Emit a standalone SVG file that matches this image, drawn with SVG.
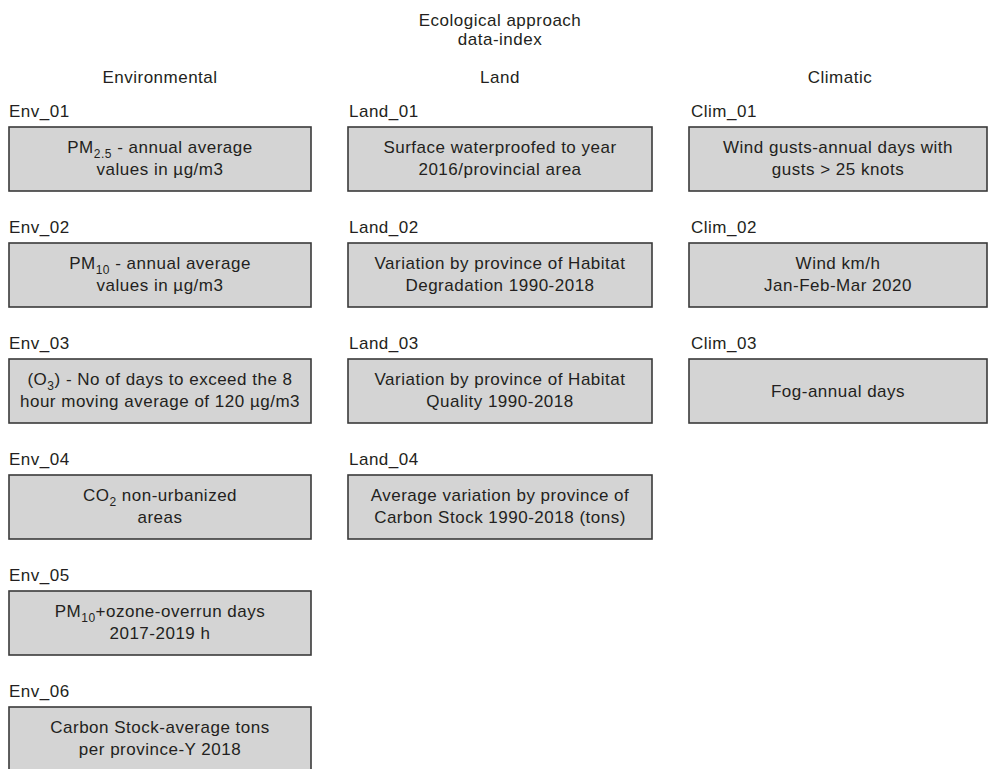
<svg xmlns="http://www.w3.org/2000/svg" width="990" height="769" viewBox="0 0 990 769">
<style>
text{font-family:"Liberation Sans",Arial,sans-serif;font-size:17px;fill:#231f20;letter-spacing:0.5px}
.c{text-anchor:middle}
.box{fill:#d4d4d4;stroke:#3a3a3a;stroke-width:1.6}
.sub{font-size:12px}
</style>
<rect width="990" height="769" fill="#ffffff"/>
<g id="title">
<text class="c" x="500" y="26">Ecological approach</text>
<text class="c" x="500" y="45">data-index</text>
</g>
<g id="headers">
<text class="c" x="160" y="83">Environmental</text>
<text class="c" x="500" y="83">Land</text>
<text class="c" x="840" y="83">Climatic</text>
</g>
<g id="connectors"></g>
<g id="env01">
<text x="9" y="117">Env_01</text>
<rect class="box" x="9" y="127" width="302" height="64"/>
<text class="c" x="160" y="153">PM<tspan class="sub" dy="5">2.5</tspan><tspan dy="-5"> - annual average</tspan></text>
<text class="c" x="160" y="175">values in µg/m3</text>
</g>
<g id="env02">
<text x="9" y="233">Env_02</text>
<rect class="box" x="9" y="243" width="302" height="64"/>
<text class="c" x="160" y="269">PM<tspan class="sub" dy="5">10</tspan><tspan dy="-5"> - annual average</tspan></text>
<text class="c" x="160" y="291">values in µg/m3</text>
</g>
<g id="env03">
<text x="9" y="349">Env_03</text>
<rect class="box" x="9" y="359" width="302" height="64"/>
<text class="c" x="160" y="385">(O<tspan class="sub" dy="5">3</tspan><tspan dy="-5">) - No of days to exceed the 8</tspan></text>
<text class="c" x="160" y="407">hour moving average of 120 µg/m3</text>
</g>
<g id="env04">
<text x="9" y="465">Env_04</text>
<rect class="box" x="9" y="475" width="302" height="64"/>
<text class="c" x="160" y="501">CO<tspan class="sub" dy="5">2</tspan><tspan dy="-5"> non-urbanized</tspan></text>
<text class="c" x="160" y="523">areas</text>
</g>
<g id="env05">
<text x="9" y="581">Env_05</text>
<rect class="box" x="9" y="591" width="302" height="64"/>
<text class="c" x="160" y="617">PM<tspan class="sub" dy="5">10</tspan><tspan dy="-5">+ozone-overrun days</tspan></text>
<text class="c" x="160" y="639">2017-2019 h</text>
</g>
<g id="env06">
<text x="9" y="697">Env_06</text>
<rect class="box" x="9" y="707" width="302" height="64"/>
<text class="c" x="160" y="733">Carbon Stock-average tons</text>
<text class="c" x="160" y="755">per province-Y 2018</text>
</g>
<g id="land01">
<text x="349" y="117">Land_01</text>
<rect class="box" x="348" y="127" width="304" height="64"/>
<text class="c" x="500" y="153">Surface waterproofed to year</text>
<text class="c" x="500" y="175">2016/provincial area</text>
</g>
<g id="land02">
<text x="349" y="233">Land_02</text>
<rect class="box" x="348" y="243" width="304" height="64"/>
<text class="c" x="500" y="269">Variation by province of Habitat</text>
<text class="c" x="500" y="291">Degradation 1990-2018</text>
</g>
<g id="land03">
<text x="349" y="349">Land_03</text>
<rect class="box" x="348" y="359" width="304" height="64"/>
<text class="c" x="500" y="385">Variation by province of Habitat</text>
<text class="c" x="500" y="407">Quality 1990-2018</text>
</g>
<g id="land04">
<text x="349" y="465">Land_04</text>
<rect class="box" x="348" y="475" width="304" height="64"/>
<text class="c" x="500" y="501">Average variation by province of</text>
<text class="c" x="500" y="523">Carbon Stock 1990-2018 (tons)</text>
</g>
<g id="clim01">
<text x="691" y="117">Clim_01</text>
<rect class="box" x="689" y="127" width="298" height="64"/>
<text class="c" x="838" y="153">Wind gusts-annual days with</text>
<text class="c" x="838" y="175">gusts &gt; 25 knots</text>
</g>
<g id="clim02">
<text x="691" y="233">Clim_02</text>
<rect class="box" x="689" y="243" width="298" height="64"/>
<text class="c" x="838" y="269">Wind km/h</text>
<text class="c" x="838" y="291">Jan-Feb-Mar 2020</text>
</g>
<g id="clim03">
<text x="691" y="349">Clim_03</text>
<rect class="box" x="689" y="359" width="298" height="64"/>
<text class="c" x="838" y="397">Fog-annual days</text>
</g>
</svg>
